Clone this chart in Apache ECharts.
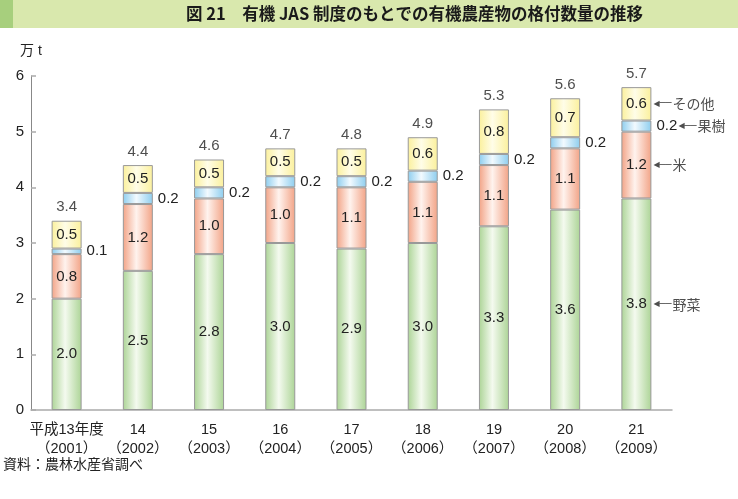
<!DOCTYPE html>
<html><head><meta charset="utf-8">
<script src="https://cdn.jsdelivr.net/npm/echarts@6/dist/echarts.min.js"></script>
<style>html,body{margin:0;padding:0;background:#fff}#c{width:738px;height:499px}</style>
</head><body><div id="c"></div>
<script>
const categories = ['平成13年度\n（2001）','14\n（2002）','15\n（2003）','16\n（2004）','17\n（2005）','18\n（2006）','19\n（2007）','20\n（2008）','21\n（2009）'];
const vegetables = [2.0, 2.5, 2.8, 3.0, 2.9, 3.0, 3.3, 3.6, 3.8];
const rice       = [0.8, 1.2, 1.0, 1.0, 1.1, 1.1, 1.1, 1.1, 1.2];
const fruit      = [0.1, 0.2, 0.2, 0.2, 0.2, 0.2, 0.2, 0.2, 0.2];
const others     = [0.5, 0.5, 0.5, 0.5, 0.5, 0.6, 0.8, 0.7, 0.6];
const totals     = [3.4, 4.4, 4.6, 4.7, 4.8, 4.9, 5.3, 5.6, 5.7];
const yTicks     = [0, 1, 2, 3, 4, 5, 6];
const seriesNames = ['野菜', '米', '果樹', 'その他'];

const FONT = '"Noto Sans CJK JP", sans-serif';
const NUMFONT = '"Liberation Sans", Arial, sans-serif';
const MIXFONT = '"Liberation Sans", "Noto Sans CJK JP", sans-serif';
function grad(c, w) {
  return new echarts.graphic.LinearGradient(0, 0, 1, 0, [
    {offset: 0, color: c}, {offset: 0.45, color: w}, {offset: 1, color: c}
  ]);
}
const stackTop = vegetables.map((v, i) => v + rice[i] + fruit[i] + others[i]);
const last = categories.length - 1;
const lists = [vegetables, rice, fruit, others];
const annotData = lists.map((arr, k) => {
  let base = 0;
  for (let j = 0; j < k; j++) base += lists[j][last];
  return {
    value: [last, base + arr[last] / 2],
    label: {distance: k === 2 ? 42 : 17},
    name: seriesNames[k]
  };
});

const chart = echarts.init(document.getElementById('c'));
const valLabel = {show: true, position: 'inside', color: '#222', fontSize: 15, fontFamily: NUMFONT,
  formatter: p => p.value.toFixed(1)};
chart.setOption({
  animation: false,
  textStyle: {fontFamily: FONT},
  graphic: [
    {type: 'rect', left: 0, top: 0, shape: {width: 738, height: 28}, style: {fill: '#d9e8ad'}},
    {type: 'rect', left: 0, top: 0, shape: {width: 13, height: 28}, style: {fill: '#a7cf7d'}},
    {type: 'text', left: 186, top: 5, style: {text: '図 21　有機 JAS 制度のもとでの有機農産物の格付数量の推移',
      font: 'bold 16.5px "Noto Sans CJK JP"', fill: '#1a1a1a'}},
    {type: 'text', left: 20, top: 44, style: {text: '万 t', font: '14px "Liberation Sans", "Noto Sans CJK JP"', fill: '#222'}},
    {type: 'text', left: 3, top: 457, style: {text: '資料：農林水産省調べ', font: '14px "Noto Sans CJK JP"', fill: '#222'}}
  ],
  grid: {left: 31, right: 66, top: 76, bottom: 89, containLabel: false},
  xAxis: {
    type: 'category', data: categories,
    axisLine: {lineStyle: {color: '#aaa', width: 1.5}},
    axisTick: {show: false},
    axisLabel: {interval: 0, color: '#222', fontSize: 14.5, lineHeight: 19, margin: 10, fontFamily: MIXFONT}
  },
  yAxis: {
    type: 'value', min: yTicks[0], max: yTicks[yTicks.length - 1], interval: 1,
    axisLine: {show: true, lineStyle: {color: '#888'}},
    axisTick: {show: true, inside: true, length: 5, lineStyle: {color: '#aaa', width: 1.5}},
    axisLabel: {color: '#222', fontSize: 15, margin: 7, fontFamily: NUMFONT},
    splitLine: {show: false}
  },
  series: [
    {name: seriesNames[0], type: 'bar', stack: 's', data: vegetables, barWidth: 30,
      itemStyle: {color: grad('#acd496', '#f4faef'), borderColor: '#999', borderWidth: 1}, label: valLabel},
    {name: seriesNames[1], type: 'bar', stack: 's', data: rice,
      itemStyle: {color: grad('#f2a386', '#fff3ee'), borderColor: '#999', borderWidth: 1}, label: valLabel},
    {name: seriesNames[2], type: 'bar', stack: 's', data: fruit,
      itemStyle: {color: grad('#8dcdee', '#f2faff'), borderColor: '#999', borderWidth: 1},
      label: Object.assign({}, valLabel, {position: 'right', distance: 5})},
    {name: seriesNames[3], type: 'bar', stack: 's', data: others,
      itemStyle: {color: grad('#fbf09c', '#fffde8'), borderColor: '#999', borderWidth: 1}, label: valLabel},
    {name: 'total', type: 'scatter', symbolSize: 0, data: stackTop.map((v, i) => [i, v]),
      label: {show: true, position: 'top', distance: 6, color: '#222', fontSize: 15, fontFamily: NUMFONT,
        formatter: p => totals[p.dataIndex].toFixed(1)}, silent: true},
    {name: 'annot', type: 'scatter', symbolSize: 0, data: annotData, silent: true,
      label: {show: true, position: 'right', color: '#222', fontSize: 14, fontFamily: FONT,
        formatter: p => '{a|◀}{l|──}{t|' + p.name + '}',
        rich: {a: {fontSize: 8, fontFamily: '"DejaVu Sans"', color: '#222'},
               l: {fontSize: 10, fontFamily: '"DejaVu Sans"', color: '#222'},
               t: {fontSize: 14, fontFamily: FONT, color: '#222', padding: [0, 0, 0, 1]}}}}
  ]
});
</script></body></html>
